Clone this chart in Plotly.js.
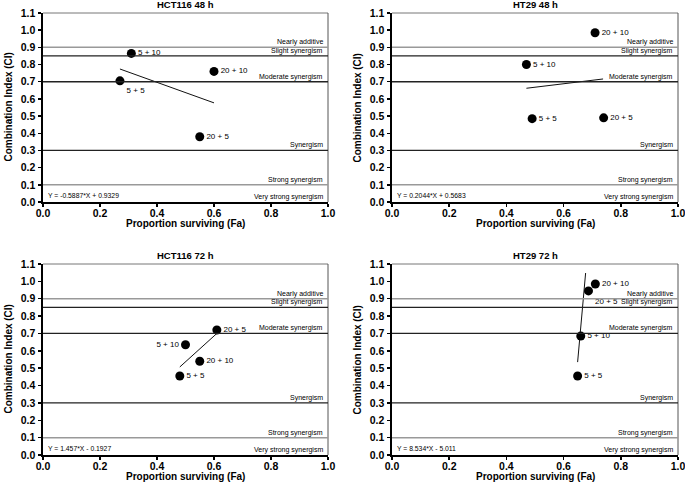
<!DOCTYPE html>
<html>
<head>
<meta charset="utf-8">
<script src="https://cdn.plot.ly/plotly-3.0.1.min.js"></script>
<style>html,body{margin:0;padding:0;background:#fff;}#chart{width:685px;height:484px;}</style>
</head>
<body>
<div id="chart"></div>
<script>
// ---- data ----
const panelTitles = ['HCT116 48 h', 'HT29 48 h', 'HCT116 72 h', 'HT29 72 h'];
const comboLabels = ['5 + 5', '5 + 10', '20 + 5', '20 + 10'];

const faHCT116_48 = [0.27, 0.31, 0.55, 0.60];
const ciHCT116_48 = [0.705, 0.865, 0.38, 0.76];
const faHT29_48 = [0.49, 0.47, 0.74, 0.71];
const ciHT29_48 = [0.485, 0.80, 0.49, 0.985];
const faHCT116_72 = [0.48, 0.50, 0.61, 0.55];
const ciHCT116_72 = [0.455, 0.635, 0.72, 0.54];
const faHT29_72 = [0.649, 0.66, 0.687, 0.711];
const ciHT29_72 = [0.455, 0.685, 0.945, 0.985];

// fitted regression line end points
const fitXHCT116_48 = [0.27, 0.60];
const fitYHCT116_48 = [0.774, 0.577];
const fitXHT29_48 = [0.47, 0.738];
const fitYHT29_48 = [0.662, 0.716];
const fitXHCT116_72 = [0.48, 0.61];
const fitYHCT116_72 = [0.507, 0.70];
const fitXHT29_72 = [0.649, 0.677];
const fitYHT29_72 = [0.535, 1.048];

const equations = ['Y = -0.5887*X + 0.9329', 'Y = 0.2044*X + 0.5683', 'Y = 1.457*X - 0.1927', 'Y = 8.534*X - 5.011'];

const bandValues = [0.9, 0.85, 0.7, 0.3, 0.1];
const bandNames = ['Nearly additive', 'Slight synergism', 'Moderate synergism', 'Synergism', 'Strong synergism', 'Very strong synergism'];
const bandNameY = [0.9, 0.85, 0.7, 0.3, 0.1, 0.0];

const xTicks = [0, 0.2, 0.4, 0.6, 0.8, 1.0];
const yTicks = [0, 0.1, 0.2, 0.3, 0.4, 0.5, 0.6, 0.7, 0.8, 0.9, 1.0, 1.1];
const xTitle = 'Proportion surviving (Fa)';
const yTitle = 'Combination Index (CI)';

// ---- build ----
const FONT = 'Liberation Sans, Arial, Helvetica, sans-serif';
const panels = [
  {fa: faHCT116_48, ci: ciHCT116_48, fx: fitXHCT116_48, fy: fitYHCT116_48, pos: ['bottom right', 'middle right', 'middle right', 'middle right']},
  {fa: faHT29_48, ci: ciHT29_48, fx: fitXHT29_48, fy: fitYHT29_48, pos: ['middle right', 'middle right', 'middle right', 'middle right']},
  {fa: faHCT116_72, ci: ciHCT116_72, fx: fitXHCT116_72, fy: fitYHCT116_72, pos: ['middle right', 'middle left', 'middle right', 'middle right']},
  {fa: faHT29_72, ci: ciHT29_72, fx: fitXHT29_72, fy: fitYHT29_72, pos: ['middle right', 'middle right', 'bottom right', 'middle right']}
];

const W = 685, H = 484;
const xDom = [[43 / W, 328 / W], [392 / W, 678 / W], [43 / W, 328 / W], [392 / W, 678 / W]];
const yDom = [[1 - 202 / H, 1 - 13 / H], [1 - 202 / H, 1 - 13 / H], [1 - 455 / H, 1 - 264 / H], [1 - 455 / H, 1 - 264 / H]];

const traces = [];
const shapes = [];
const annotations = [];
const layout = {
  width: W, height: H,
  margin: {l: 0, r: 0, t: 0, b: 0},
  paper_bgcolor: '#fff', plot_bgcolor: '#fff',
  showlegend: false,
  font: {family: FONT, color: '#000'}
};

panels.forEach((p, i) => {
  const n = i === 0 ? '' : String(i + 1);
  const xa = 'x' + n, ya = 'y' + n;
  traces.push({
    x: p.fx, y: p.fy, xaxis: xa, yaxis: ya, type: 'scatter', mode: 'lines',
    line: {color: '#111', width: 1}, hoverinfo: 'skip'
  });
  traces.push({
    x: p.fa, y: p.ci, xaxis: xa, yaxis: ya, type: 'scatter', mode: 'markers+text',
    text: comboLabels, textposition: p.pos,
    textfont: {family: FONT, size: 8, color: '#000'},
    marker: {color: '#000', size: 9}, cliponaxis: false
  });
  layout['xaxis' + n] = {
    domain: xDom[i], anchor: ya, range: [0, 1.0], tickvals: xTicks, ticktext: xTicks.map(v => v.toFixed(1)),
    ticks: 'outside', ticklen: 3, tickwidth: 1.5, tickcolor: '#000', ticklabeloverflow: 'allow',
    ticklabelstandoff: -2,
    showline: true, linecolor: '#000', linewidth: 1.5, showgrid: false, zeroline: false,
    tickfont: {family: FONT, size: 10.5, weight: 'bold', color: '#000'}, fixedrange: true
  };
  layout['yaxis' + n] = {
    domain: yDom[i], anchor: xa, range: [0, 1.1], tickvals: yTicks, tickformat: '.1f',
    ticks: 'outside', ticklen: 3, tickwidth: 1.5, tickcolor: '#000', ticklabeloverflow: 'allow',
    showline: true, linecolor: '#000', linewidth: 2.5, showgrid: false, zeroline: false,
    tickfont: {family: FONT, size: 10.5, weight: 'bold', color: '#000'}, fixedrange: true
  };
  // frame top/right
  shapes.push({type: 'line', xref: xa + ' domain', yref: ya + ' domain', x0: 0, x1: 1, y0: 1, y1: 1, line: {color: '#777', width: 1}});
  shapes.push({type: 'line', xref: xa + ' domain', yref: ya + ' domain', x0: 1, x1: 1, y0: 0, y1: 1, line: {color: '#555', width: 1}});
  // band lines
  bandValues.forEach(v => {
    const gray = (v === 0.9 || v === 0.1);
    shapes.push({type: 'line', xref: xa + ' domain', yref: ya, x0: 0, x1: 1, y0: v, y1: v,
      line: {color: gray ? '#999' : '#222', width: gray ? 1.5 : 1.3}});
  });
  bandNames.forEach((name, k) => {
    annotations.push({xref: xa + ' domain', yref: ya, x: 1, y: bandNameY[k], xanchor: 'right', yanchor: 'bottom',
      xshift: -3, yshift: -1, text: name, showarrow: false, font: {family: FONT, size: 7, color: '#000'}});
  });
  annotations.push({xref: xa + ' domain', yref: ya + ' domain', x: 0.012, y: 0, xanchor: 'left', yanchor: 'bottom',
    yshift: 1, text: equations[i], showarrow: false, font: {family: FONT, size: 6.8, color: '#000'}});
  annotations.push({xref: xa + ' domain', yref: ya + ' domain', x: 0.5, y: 1, xanchor: 'center', yanchor: 'bottom',
    yshift: 1, text: panelTitles[i], showarrow: false, font: {family: FONT, size: 9.5, weight: 'bold', color: '#000'}});
  annotations.push({xref: xa + ' domain', yref: ya + ' domain', x: 0.5, y: 0, xanchor: 'center', yanchor: 'top',
    yshift: -14, text: xTitle, showarrow: false, font: {family: FONT, size: 10, weight: 'bold', color: '#000'}});
  annotations.push({xref: xa + ' domain', yref: ya + ' domain', x: 0, y: 0.5, xanchor: 'center', yanchor: 'middle',
    xshift: -35, textangle: -90, text: yTitle, showarrow: false, font: {family: FONT, size: 10, weight: 'bold', color: '#000'}});
});

layout.shapes = shapes;
layout.annotations = annotations;

Plotly.newPlot('chart', traces, layout, {staticPlot: true, displayModeBar: false});
</script>
</body>
</html>
